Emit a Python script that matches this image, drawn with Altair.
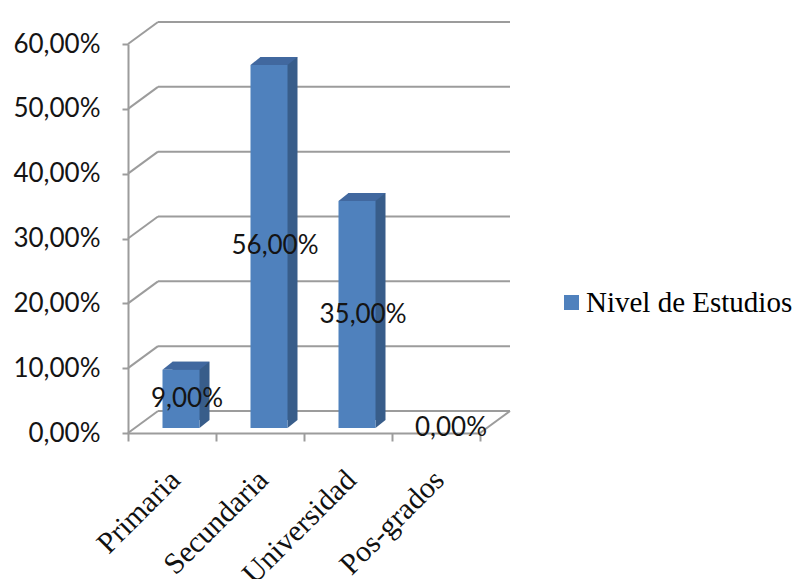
import altair as alt
import pandas as pd

# ---- data ----
categorias = ["Primaria", "Secundaria", "Universidad", "Pos-grados"]
valores = [0.09, 0.56, 0.35, 0.0]
serie = "Nivel de Estudios"
y_ticks = [0.0, 0.1, 0.2, 0.3, 0.4, 0.5, 0.6]

# ---- style ----
FRONT = "#4f81bd"
SIDE = "#385d8a"
TOP = "#41689f"
GRID = "#9c9c9c"
TEXT = "#141414"

W, H = 352, 389          # plot area (front floor edge / front axis)
DX, DY = 30, -22         # depth of the 3D box (back wall offset)
BAR_W = 37

df = pd.DataFrame({"cat": categorias, "val": valores, "serie": [serie] * len(categorias)})
grid_df = pd.DataFrame({"v": y_ticks})
floor_df = pd.DataFrame({"v": [0.0]})

xscale = alt.Scale(domain=categorias, paddingInner=0, paddingOuter=0)
yscale = alt.Scale(domain=[0, 0.6], nice=False, zero=True)

y_axis = alt.Axis(
    values=y_ticks,
    labelExpr="replace(format(datum.value*100, '.2f'), '.', ',') + '%'",
    labelFont="Lato", labelFontSize=26, labelColor=TEXT, labelPadding=22,
    tickSize=6, tickColor=GRID, tickWidth=2,
    domainColor=GRID, domainWidth=2, grid=False, title=None,
)
x_axis = alt.Axis(
    title=None, labelAngle=-45, labelAlign="right", labelBaseline="middle",
    labelFont="Liberation Serif", labelFontSize=30, labelColor="#111111",
    labelPadding=34, labelOffset=3, labelOverlap=False,
    tickBand="extent", tickSize=8, tickColor=GRID, tickWidth=2,
    domainColor=GRID, domainWidth=2, grid=False,
)

X = alt.X("cat:N", scale=xscale, sort=categorias, axis=x_axis)

# back-wall gridlines
grid_back = alt.Chart(grid_df).mark_rule(color=GRID, strokeWidth=2, yOffset=DY, y2Offset=DY).encode(
    y=alt.Y("v:Q", scale=yscale, axis=y_axis),
    y2="v:Q",
    x=alt.value(DX), x2=alt.value(W + DX),
)
# side-wall diagonals from the front axis to the back wall
grid_diag = alt.Chart(grid_df).mark_rule(color=GRID, strokeWidth=2, y2Offset=DY).encode(
    y=alt.Y("v:Q", scale=yscale, axis=y_axis),
    y2="v:Q",
    x=alt.value(0), x2=alt.value(DX),
)
# right floor edge
floor_diag = alt.Chart(floor_df).mark_rule(color=GRID, strokeWidth=2, y2Offset=DY).encode(
    y=alt.Y("v:Q", scale=yscale, axis=y_axis),
    y2="v:Q",
    x=alt.value(W), x2=alt.value(W + DX),
)

pos = alt.Chart(df).transform_filter("datum.val > 0")

side = pos.mark_bar(width=BAR_W, color=SIDE, xOffset=19, yOffset=-13, y2Offset=-13).encode(
    x=X, y=alt.Y("val:Q", scale=yscale, axis=y_axis),
)
top = pos.mark_point(
    shape="M-1,0.1702L0.5745,0.1702L1,-0.1702L-0.5745,-0.1702Z",
    size=2209, filled=True, color=TOP, opacity=1, strokeWidth=0, xOffset=14, yOffset=-9,
).encode(x=X, y=alt.Y("val:Q", scale=yscale, axis=y_axis))
bottom_tri = pos.transform_calculate(base="0").mark_point(
    shape="M-1,0.8L-1,-0.8L1,-0.8Z",
    size=100, filled=True, color=SIDE, opacity=1, strokeWidth=0, xOffset=32.5, yOffset=-9,
).encode(x=X, y=alt.Y("base:Q", scale=yscale, axis=y_axis))

front = alt.Chart(df).mark_bar(width=BAR_W, xOffset=9, yOffset=-5, y2Offset=-5).encode(
    x=X,
    y=alt.Y("val:Q", scale=yscale, axis=y_axis),
    fill=alt.Fill(
        "serie:N", scale=alt.Scale(domain=[serie], range=[FRONT]),
        legend=alt.Legend(
            title=None, orient="none", legendX=429, legendY=244,
            symbolType="square", symbolSize=225, symbolStrokeWidth=0,
            labelFont="Liberation Serif", labelFontSize=29, labelColor="#000000",
            labelOffset=0, labelLimit=0, padding=0,
        ),
    ),
)

labels = alt.Chart(df).transform_calculate(
    mid="datum.val / 2",
    label="replace(format(datum.val*100, '.2f'), '.', ',') + '%'",
).mark_text(font="Lato", fontSize=26, color=TEXT, xOffset=15, yOffset=-5).encode(
    x=X,
    y=alt.Y("mid:Q", scale=yscale, axis=y_axis),
    text="label:N",
)

chart = alt.layer(grid_back, grid_diag, floor_diag, side, top, bottom_tri, front, labels).properties(
    width=W, height=H,
    autosize=alt.AutoSizeParams(type="none"),
    padding={"left": 128, "top": 44, "right": 799 - 128 - W, "bottom": 579 - 44 - H},
    background="white",
).configure_view(stroke=None)

chart.save("out.html", embed_options={"renderer": "svg", "actions": False})
